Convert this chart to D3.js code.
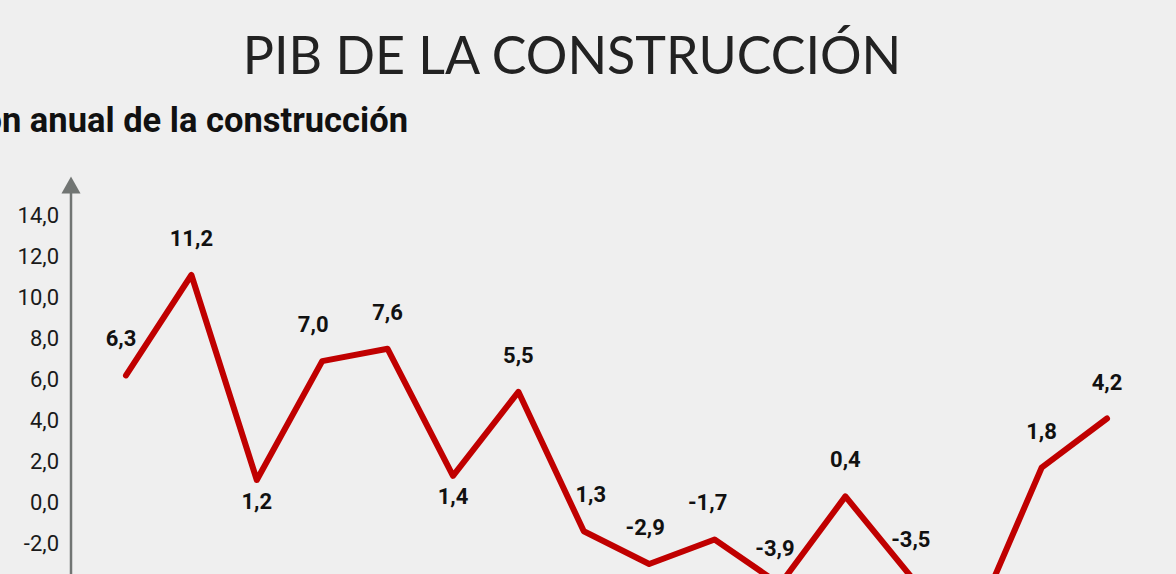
<!DOCTYPE html>
<html>
<head>
<meta charset="utf-8">
<script src="https://cdn.jsdelivr.net/npm/d3@7"></script>
<style>
  html, body { margin: 0; padding: 0; background: #efefef; }
  svg { display: block; }
  .title { font-family: Lato, "Open Sans", sans-serif; font-weight: 400; fill: #222; }
  .subtitle { font-family: Roboto, sans-serif; font-weight: 700; fill: #111; }
  .tick text { font-family: Roboto, sans-serif; fill: #1a1a1a; }
  .lbl { font-family: Roboto, sans-serif; font-weight: 700; fill: #111; }
</style>
</head>
<body>
<script>
'use strict';

// data (x axis labels are cut off, so periods are just numbered)
const periods = d3.range(1, 17);
const values = [6.3, 11.2, 1.2, 7.0, 7.6, 1.4, 5.5, -1.3, -2.9, -1.7, -3.9, 0.4, -3.5, -5.6, 1.8, 4.2];
const labels = ["6,3", "11,2", "1,2", "7,0", "7,6", "1,4", "5,5", "1,3", "-2,9", "-1,7", "-3,9", "0,4", "-3,5", "-5,6", "1,8", "4,2"];
const yTicks = [-8, -6, -4, -2, 0, 2, 4, 6, 8, 10, 12, 14];

const titleText = "PIB DE LA CONSTRUCCIÓN";
const subtitleText = "Variación anual de la construcción";

const width = 1176, height = 574;

const svg = d3.select("body").append("svg")
  .attr("width", width)
  .attr("height", height);

svg.append("rect")
  .attr("width", width)
  .attr("height", height)
  .attr("fill", "#efefef");

svg.append("text")
  .attr("class", "title")
  .attr("x", 572)
  .attr("y", 74)
  .attr("text-anchor", "middle")
  .style("font-size", "52px")
  .text(titleText);

// subtitle is cut at the left edge in the reference
svg.append("text")
  .attr("class", "subtitle")
  .attr("x", 408)
  .attr("y", 132)
  .attr("text-anchor", "end")
  .style("font-size", "34.5px")
  .text(subtitleText);

const x = d3.scalePoint().domain(periods).range([126, 1107]);
const y = d3.scaleLinear().domain([0, 14]).range([504.6, 217.6]);

// y axis
const yAxis = d3.axisLeft(y)
  .tickValues(yTicks)
  .tickSize(0)
  .tickPadding(12)
  .tickFormat(d => d3.format(".1f")(d).replace(".", ",").replace("−", "-"));

const gy = svg.append("g")
  .attr("transform", "translate(71,0)")
  .call(yAxis);
gy.select(".domain").remove();
gy.selectAll(".tick text")
  .style("font-size", "22px")
  .attr("dy", "0.32em")
  .attr("y", -2);

svg.append("line")
  .attr("x1", 71).attr("x2", 71)
  .attr("y1", 190).attr("y2", height + 10)
  .attr("stroke", "#717573")
  .attr("stroke-width", 2.5);

svg.append("path")
  .attr("d", "M71,176.5 L61.5,193.5 L80.5,193.5 Z")
  .attr("fill", "#717573");

// line
const line = d3.line()
  .x((d, i) => x(periods[i]))
  .y(d => y(d));

svg.append("path")
  .datum(values)
  .attr("fill", "none")
  .attr("stroke", "#c00000")
  .attr("stroke-width", 6)
  .attr("stroke-linejoin", "round")
  .attr("stroke-linecap", "round")
  .attr("d", line);

// data labels
const below = new Set([2, 5, 13]);
const nudge = {0: -5, 3: -9, 7: 7, 8: -4, 9: -7, 10: -5};

svg.append("g")
  .selectAll("text")
  .data(values)
  .join("text")
  .attr("class", "lbl")
  .attr("x", (d, i) => x(periods[i]) + (nudge[i] || 0))
  .attr("y", (d, i) => y(d) + (below.has(i) ? 28.5 : -29))
  .attr("text-anchor", "middle")
  .style("font-size", "22px")
  .text((d, i) => labels[i]);
</script>
</body>
</html>
